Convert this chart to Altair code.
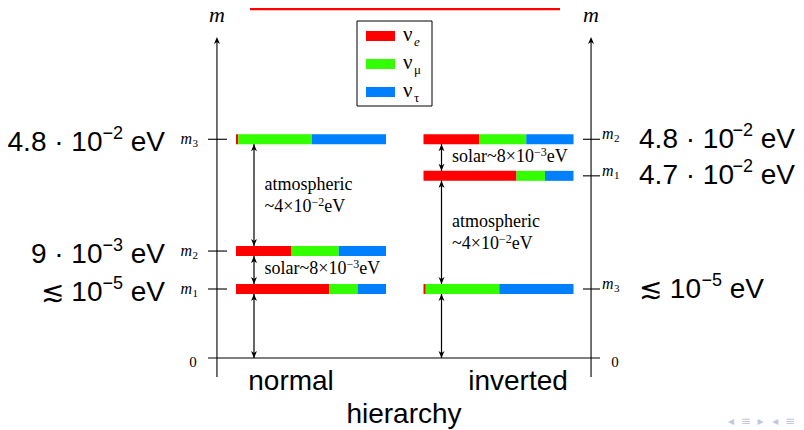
import altair as alt
import pandas as pd

# ---------------- data ----------------
hierarchies = ["normal", "inverted"]
hier_start = [0.0, 1.25]                 # left edge of each hierarchy's bars (bar width = 1)
axis_label_pos = [0.367, 0.63]           # centre of "normal"/"inverted" relative to bar start
mass_states = ["m1", "m2", "m3"]
state_sub = ["1", "2", "3"]
# schematic height of each mass level (0 = massless line)
normal_levels = [1.0, 1.55, 3.17]
inverted_levels = [2.64, 3.17, 1.0]
# mass labels: mantissa part, exponent, unit
normal_mass_base = ["≲ 10", "9 · 10", "4.8 · 10"]
normal_mass_exp = ["−5", "−3", "−2"]
inverted_mass_base = ["4.7 · 10", "4.8 · 10", "≲ 10"]
inverted_mass_exp = ["−2", "−2", "−5"]
mass_unit = "eV"
flavors = ["νe", "νμ", "ντ"]
flavor_base = "ν"
flavor_sub = ["e", "μ", "τ"]
flavor_colors = ["#ff0000", "#33ff00", "#0080ff"]
# flavour content of m1, m2, m3 (fractions of each bar)
frac_e = [0.62, 0.37, 0.015]
frac_mu = [0.19, 0.315, 0.49]
frac_tau = [0.19, 0.315, 0.495]
# labels of the gaps between consecutive levels (lowest gap unlabeled): (text, exponent, unit)
gap_text_normal = [[], [("solar~8×10", "−3", "eV")],
                   [("atmospheric", "", ""), ("~4×10", "−2", "eV")]]
gap_text_inverted = [[], [("atmospheric", "", ""), ("~4×10", "−2", "eV")],
                     [("solar~8×10", "−3", "eV")]]
axis_title = "hierarchy"
axis_symbol = "m"
zero_label = "0"
nav_symbols = ["◂", "≡", "▸", "◂", "≡"]

# ---------------- layout ----------------
W, H = 788, 422
PXX, PXY = 150.0, 69.0
XMIN = -228 / PXX
XMAX = XMIN + W / PXX
YMIN = -72 / PXY
YMAX = 350 / PXY
AX = [-0.127, 2.367]
TICK_L = (-0.187, -0.06)
TICK_R = (2.313, 2.427)
ARROW_DX = 0.12
ANN_DX = 0.19
AX_BOTTOM, AX_TOP, AX_TIP = -0.275, 4.60, 4.652
XL_END = -0.473        # right end of the left mass labels
XR_START = 2.687       # left start of the right mass labels
BIG, SUP = 28, 18
ANN, ANN_SUP = 18, 12
SERIF = "Liberation Serif"
SANS = "Liberation Sans"
UP = "M0,-1 L0.85,1 L0,0.45 L-0.85,1 Z"
DOWN = "M0,1 L0.85,-1 L0,-0.45 L-0.85,-1 Z"

# advance widths (em) used to chain the pieces of split labels
ADV_SANS = {".": .278, " ": .278, "·": .278, "≲": .838, "V": .667, "−": .584}
ADV_SERIF = {"a": .444, "t": .278, "m": .778, "o": .5, "s": .389, "p": .5, "h": .5, "e": .444,
             "r": .333, "i": .278, "c": .444, "l": .278, "~": .541, "×": .564, "−": .564,
             "V": .722}


def tw(s, size, table=ADV_SANS, default=0.556):
    return sum(table.get(c, default) for c in s) * size


GAP = tw(" ", BIG)    # space between exponent and unit

xs = alt.Scale(domain=[XMIN, XMAX], nice=False, zero=False)
ys = alt.Scale(domain=[YMIN, YMAX], nice=False, zero=False)


def X(f):
    return alt.X(f, type="quantitative", scale=xs, axis=None)


def Y(f):
    return alt.Y(f, type="quantitative", scale=ys, axis=None)


# ---------------- tables ----------------
all_levels = [normal_levels, inverted_levels]
all_base = [normal_mass_base, inverted_mass_base]
all_exp = [normal_mass_exp, inverted_mass_exp]
all_gaps = [gap_text_normal, gap_text_inverted]

bar_rows, arrow_rows, tick_rows, ann_rows, lab_rows = [], [], [], [], []
for hi, (h, start, levels) in enumerate(zip(hierarchies, hier_start, all_levels)):
    for s, lvl in enumerate(levels):
        cum = 0.0
        for f, v in zip(flavors, [frac_e[s], frac_mu[s], frac_tau[s]]):
            bar_rows.append(dict(hier=h, flavor=f, x0=start + cum, x1=start + cum + v, level=lvl))
            cum += v
        t0, t1 = (TICK_L if hi == 0 else TICK_R)
        tick_rows.append(dict(x0=t0, x1=t1, level=lvl))
        base, ex = all_base[hi][s], all_exp[hi][s]
        if hi == 0:
            xu = XL_END
            xe = XL_END - (tw(mass_unit, BIG) + GAP) / PXX
            xb = xe - tw(ex, SUP) / PXX
        else:
            xb = XR_START
            xe = XR_START + tw(base, BIG) / PXX
            xu = xe + (tw(ex, SUP) + GAP) / PXX
        lab_rows.append(dict(side=hi, level=lvl, base=base, exp=ex, unit=mass_unit,
                             xb=xb, xe=xe, xu=xu, m=axis_symbol, sub=state_sub[s]))
    srt = [0.0] + sorted(levels)
    for g in range(3):
        lo, hi_ = srt[g], srt[g + 1]
        arrow_rows.append(dict(hier=h, ax=start + ARROW_DX, lo=lo, hi=hi_, zero=(lo == 0.0)))
        lines = all_gaps[hi][g]
        for li, (t, ex, un) in enumerate(lines):
            xb = start + ANN_DX
            xe = xb + tw(t, ANN, ADV_SERIF, 0.5) / PXX
            xu = xe + tw(ex, ANN_SUP, ADV_SERIF, 0.5) / PXX
            ann_rows.append(dict(xb=xb, xe=xe, xu=xu, mid=(lo + hi_) / 2, base=t, exp=ex, unit=un,
                                 kind=("single" if len(lines) == 1 else f"l{li}")))

bars_df = pd.DataFrame(bar_rows)
arrows_df = pd.DataFrame(arrow_rows)
ticks_df = pd.DataFrame(tick_rows)
ann_df = pd.DataFrame(ann_rows)
lab_df = pd.DataFrame(lab_rows)
axes_df = pd.DataFrame(dict(ax=AX, bottom=[AX_BOTTOM] * 2, top=[AX_TOP] * 2, tip=[AX_TIP] * 2,
                            m=[axis_symbol] * 2))
zero_df = pd.DataFrame(dict(x0=[TICK_L[0]], x1=[TICK_R[1]], level=[0.0]))
zero_lab_df = pd.DataFrame(dict(x=[-0.287, 2.527], level=[0.0, 0.0], text=[zero_label] * 2))
hier_lab_df = pd.DataFrame(dict(x=[s + o for s, o in zip(hier_start, axis_label_pos)],
                                text=hierarchies))
title_df = pd.DataFrame(dict(x=[(AX[0] + AX[1]) / 2], text=[axis_title]))
leg_df = pd.DataFrame(dict(flavor=flavors, base=[flavor_base] * 3, sub=flavor_sub))
nav_df = pd.DataFrame(dict(i=list(range(len(nav_symbols))), t=nav_symbols))

color = alt.Color("flavor:N", scale=alt.Scale(domain=flavors, range=flavor_colors), legend=None)
LINE = dict(color="black", strokeWidth=1.1)

layers = []
# axes
layers.append(alt.Chart(axes_df).mark_rule(**LINE).encode(x=X("ax"), y=Y("bottom"), y2="top"))
layers.append(alt.Chart(axes_df).mark_point(shape=UP, size=49, filled=True, opacity=1,
                                            color="black", strokeWidth=0, yOffset=3.5)
              .encode(x=X("ax"), y=Y("tip")))
layers.append(alt.Chart(axes_df).mark_text(font=SERIF, fontStyle="italic", fontSize=22,
                                           baseline="alphabetic", align="center")
              .encode(x=X("ax"), y=alt.value(14), text="m:N"))
layers.append(alt.Chart(zero_df).mark_rule(**LINE).encode(x=X("x0"), x2="x1", y=Y("level")))
layers.append(alt.Chart(ticks_df).mark_rule(**LINE).encode(x=X("x0"), x2="x1", y=Y("level")))
layers.append(alt.Chart(zero_lab_df).mark_text(font=SERIF, fontSize=15, align="center",
                                               baseline="alphabetic", dy=9)
              .encode(x=X("x"), y=Y("level"), text="text:N"))
# arrows
layers.append(alt.Chart(arrows_df).mark_rule(color="black", strokeWidth=1.2)
              .encode(x=X("ax"), y=Y("lo"), y2="hi"))
# bars
layers.append(alt.Chart(bars_df).mark_rule(strokeWidth=10, strokeCap="butt")
              .encode(x=X("x0"), x2="x1", y=Y("level"), color=color))
HEAD = dict(size=49, filled=True, opacity=1, color="black", strokeWidth=0)
layers.append(alt.Chart(arrows_df).mark_point(shape=UP, yOffset=8.5, **HEAD)
              .encode(x=X("ax"), y=Y("hi")))
layers.append(alt.Chart(arrows_df).transform_filter("!datum.zero")
              .mark_point(shape=DOWN, yOffset=-8.5, **HEAD).encode(x=X("ax"), y=Y("lo")))
layers.append(alt.Chart(arrows_df).transform_filter("datum.zero")
              .mark_point(shape=DOWN, yOffset=-3.5, **HEAD).encode(x=X("ax"), y=Y("lo")))
# gap annotations (text, raised exponent, unit)
for kind, dy in [("single", 4), ("l0", -5), ("l1", 17)]:
    sub = alt.Chart(ann_df).transform_filter(f"datum.kind == '{kind}'")
    for part, xf, sz, ddy in [("base", "xb", ANN, 0), ("exp", "xe", ANN_SUP, -6),
                              ("unit", "xu", ANN, 0)]:
        layers.append(sub.mark_text(font=SERIF, fontSize=sz, align="left", baseline="alphabetic",
                                    dy=dy + ddy)
                      .encode(x=X(xf), y=Y("mid"), text=f"{part}:N"))
# mass labels, left (normal; right-aligned) and right (inverted; left-aligned)
left = alt.Chart(lab_df).transform_filter("datum.side == 0")
right = alt.Chart(lab_df).transform_filter("datum.side == 1")
for part, xf, sz, dyl, dyr in [("base", "xb", BIG, 12, 8.5), ("exp", "xe", SUP, 0, -3.5),
                              ("unit", "xu", BIG, 12, 8.5)]:
    layers.append(left.mark_text(font=SANS, fontSize=sz, align="right", baseline="alphabetic", dy=dyl)
                  .encode(x=X(xf), y=Y("level"), text=f"{part}:N"))
    layers.append(right.mark_text(font=SANS, fontSize=sz, align="left", baseline="alphabetic", dy=dyr)
                  .encode(x=X(xf), y=Y("level"), text=f"{part}:N"))
layers.append(left.mark_text(font=SERIF, fontStyle="italic", fontSize=16, align="right",
                             baseline="alphabetic", dy=5)
              .encode(x=alt.X("xl:Q", scale=xs, axis=None), y=Y("level"), text="m:N")
              .transform_calculate(xl="-0.293"))
layers.append(left.mark_text(font=SERIF, fontSize=11, align="left", baseline="alphabetic", dy=8, dx=0.5)
              .encode(x=alt.X("xl:Q", scale=xs, axis=None), y=Y("level"), text="sub:N")
              .transform_calculate(xl="-0.293"))
layers.append(right.mark_text(font=SERIF, fontStyle="italic", fontSize=16, align="left",
                              baseline="alphabetic", dy=0)
              .encode(x=alt.X("xr:Q", scale=xs, axis=None), y=Y("level"), text="m:N")
              .transform_calculate(xr="2.44"))
layers.append(right.mark_text(font=SERIF, fontSize=11, align="left", baseline="alphabetic", dy=3, dx=12)
              .encode(x=alt.X("xr:Q", scale=xs, axis=None), y=Y("level"), text="sub:N")
              .transform_calculate(xr="2.44"))
# hierarchy labels
layers.append(alt.Chart(hier_lab_df).mark_text(font=SANS, fontSize=28, align="center",
                                               baseline="alphabetic")
              .encode(x=X("x"), y=alt.value(382), text="text:N"))
layers.append(alt.Chart(title_df).mark_text(font=SANS, fontSize=28, align="center",
                                            baseline="alphabetic")
              .encode(x=X("x"), y=alt.value(415), text="text:N"))
# legend
ly = alt.Y("flavor:N", scale=alt.Scale(type="point", domain=flavors, range=[28, 84], padding=0),
           axis=None)
layers.append(alt.Chart(pd.DataFrame(dict(a=[0]))).mark_rect(fill="white", stroke="black",
                                                             strokeWidth=1)
              .encode(x=alt.value(349), x2=alt.value(424), y=alt.value(13), y2=alt.value(98)))
layers.append(alt.Chart(leg_df).mark_rule(strokeWidth=10, strokeCap="butt")
              .encode(x=alt.value(358), x2=alt.value(387), y=ly, color=color))
layers.append(alt.Chart(leg_df).mark_text(font=SERIF, fontSize=21, align="left",
                                          baseline="alphabetic", dy=5)
              .encode(x=alt.value(395), y=ly, text="base:N"))
layers.append(alt.Chart(leg_df).transform_filter("datum.sub == 'e'")
              .mark_text(font=SERIF, fontSize=13, fontStyle="italic", align="left",
                         baseline="alphabetic", dy=10)
              .encode(x=alt.value(406), y=ly, text="sub:N"))
layers.append(alt.Chart(leg_df).transform_filter("datum.sub != 'e'")
              .mark_text(font=SERIF, fontSize=13, align="left", baseline="alphabetic", dy=10)
              .encode(x=alt.value(406), y=ly, text="sub:N"))
# decorative slide elements
layers.append(alt.Chart(pd.DataFrame(dict(a=[0]))).mark_rule(color="#ff0000", strokeWidth=2.5)
              .encode(x=alt.value(242), x2=alt.value(552), y=alt.value(1)))
layers.append(alt.Chart(nav_df).mark_text(
    font="DejaVu Sans", fontSize=12, color="#c4c4e4", align="center", baseline="alphabetic")
    .encode(x=alt.X("i:O", scale=alt.Scale(type="point", range=[723, 782], padding=0), axis=None),
            y=alt.value(417), text="t:N")
    )

chart = (alt.layer(*layers)
         .resolve_scale(y="independent", x="independent")
         .properties(width=W, height=H, padding=0, autosize=alt.AutoSizeParams(type="none"))
         .configure_view(stroke=None))

chart.save("out.html", embed_options={"renderer": "svg", "actions": False})
